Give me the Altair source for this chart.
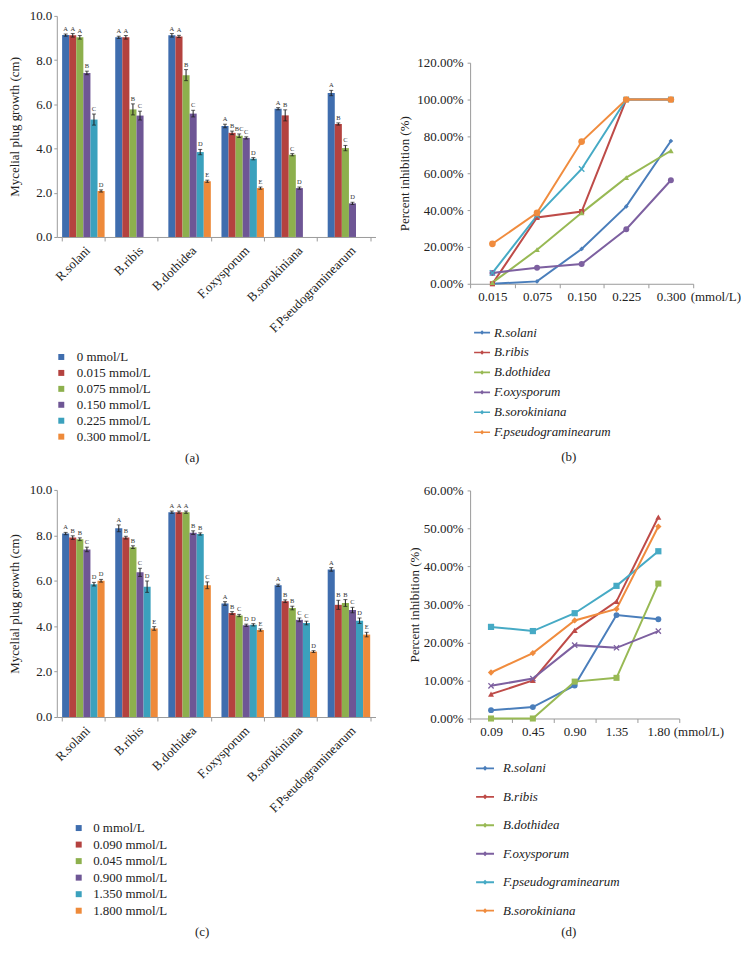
import altair as alt
import pandas as pd

FONT = "Liberation Serif"
TXT = "#222222"
AXC = "#9a9a9a"

# ---------------- Panel (a) ----------------
species_bar = ["R.solani", "B.ribis", "B.dothidea", "F.oxysporum", "B.sorokiniana", "F.Pseudograminearum"]
conc_a = ["0 mmol/L", "0.015 mmol/L", "0.075 mmol/L", "0.150 mmol/L", "0.225 mmol/L", "0.300 mmol/L"]
a_growth = [
    [9.13, 9.12, 9.03, 7.42, 5.31, 2.08],
    [9.03, 9.03, 5.77, 5.49, None, None],
    [9.12, 9.07, 7.32, 5.58, 3.84, 2.52],
    [5.02, 4.71, 4.58, 4.48, 3.54, 2.21],
    [5.80, 5.50, 3.72, 2.21, None, None],
    [6.51, 5.11, 4.02, 1.52, None, None],
]
a_err = [
    [0.05, 0.08, 0.08, 0.08, 0.25, 0.05],
    [0.05, 0.08, 0.25, 0.20, 0.0, 0.0],
    [0.08, 0.05, 0.25, 0.15, 0.12, 0.05],
    [0.08, 0.08, 0.08, 0.05, 0.05, 0.05],
    [0.05, 0.25, 0.05, 0.05, 0.0, 0.0],
    [0.12, 0.05, 0.12, 0.05, 0.0, 0.0],
]
a_letters = [
    ["A", "A", "A", "B", "C", "D"],
    ["A", "A", "B", "C", "", ""],
    ["A", "A", "B", "C", "D", "E"],
    ["A", "B", "BC", "C", "D", "E"],
    ["A", "B", "C", "D", "", ""],
    ["A", "B", "C", "D", "", ""],
]

# ---------------- Panel (c) ----------------
conc_c = ["0 mmol/L", "0.090 mmol/L", "0.045 mmol/L", "0.900 mmol/L", "1.350 mmol/L", "1.800 mmol/L"]
c_growth = [
    [8.08, 7.90, 7.83, 7.38, 5.85, 6.00],
    [8.31, 7.90, 7.48, 6.37, 5.74, 3.90],
    [9.02, 9.02, 9.02, 8.12, 8.06, 5.80],
    [5.00, 4.58, 4.47, 4.04, 4.06, 3.83],
    [5.80, 5.10, 4.80, 4.28, 4.14, 2.88],
    [6.50, 4.94, 5.02, 4.71, 4.24, 3.63],
]
c_err = [
    [0.05, 0.08, 0.06, 0.10, 0.08, 0.06],
    [0.15, 0.06, 0.06, 0.18, 0.25, 0.08],
    [0.05, 0.05, 0.05, 0.08, 0.05, 0.15],
    [0.08, 0.06, 0.05, 0.05, 0.05, 0.05],
    [0.05, 0.06, 0.08, 0.08, 0.08, 0.04],
    [0.08, 0.20, 0.15, 0.12, 0.12, 0.10],
]
c_letters = [
    ["A", "B", "B", "C", "D", "D"],
    ["A", "B", "B", "C", "D", "E"],
    ["A", "A", "A", "B", "B", "C"],
    ["A", "B", "C", "D", "D", "E"],
    ["A", "B", "B", "C", "C", "D"],
    ["A", "B", "B", "C", "D", "E"],
]

# ---------------- Panel (b) ----------------
conc_b = ["0.015", "0.075", "0.150", "0.225", "0.300"]
series_b = ["R.solani", "B.ribis", "B.dothidea", "F.oxysporum", "B.sorokiniana", "F.pseudograminearum"]
b_rsolani = [0.0, 1.3, 18.9, 42.0, 77.5]
b_bribis = [0.0, 36.0, 39.2, 100.0, 100.0]
b_bdothidea = [0.6, 18.5, 38.5, 57.6, 72.2]
b_foxysporum = [5.9, 8.7, 10.7, 29.6, 56.2]
b_bsorokiniana = [5.9, 37.0, 62.3, 100.0, 100.0]
b_fpseudo = [21.7, 38.5, 77.2, 100.0, 100.0]

# ---------------- Panel (d) ----------------
conc_d = ["0.09", "0.45", "0.90", "1.35", "1.80"]
series_d = ["R.solani", "B.ribis", "B.dothidea", "F.oxysporum", "F.pseudograminearum", "B.sorokiniana"]
d_rsolani = [2.2, 3.0, 8.7, 27.2, 26.1]
d_bribis = [6.4, 10.0, 23.2, 30.8, 53.0]
d_bdothidea = [0.0, 0.0, 9.7, 10.7, 35.5]
d_foxysporum = [8.6, 10.5, 19.3, 18.6, 23.0]
d_fpseudo = [24.1, 23.0, 27.7, 34.9, 44.0]
d_bsorokiniana = [12.1, 17.2, 25.8, 28.8, 50.5]

BAR_COLORS = ["#3F6DAE", "#B4423F", "#8DB04D", "#6E5695", "#3BA1BD", "#EE8A3A"]
LINE_COLORS = ["#4A7EBB", "#BE4B48", "#98B954", "#7D60A0", "#46AAC5", "#F08C3E"]
XSHAPE = "M-1,-0.7L-0.7,-1L0,-0.3L0.7,-1L1,-0.7L0.3,0L1,0.7L0.7,1L0,0.3L-0.7,1L-1,0.7L-0.3,0Z"
LEG_PATH = "M-1,-0.1L1,-0.1L1,0.1L-1,0.1Z M-0.28,0L0,-0.28L0.28,0L0,0.28Z"

IND = dict(color="independent", shape="independent", size="independent",
           x="independent", y="independent", xOffset="independent")


def bar_df(species, conc, growth, err, letters):
    rows = []
    for s, vals, es, ls in zip(species, growth, err, letters):
        for c, v, e, l in zip(conc, vals, es, ls):
            if v is None:
                continue
            rows.append(dict(species=s, conc=c, value=v, lo=v - e, hi=v + e, letter=l))
    return pd.DataFrame(rows)


def bar_panel(df, key, conc, w, h, leg_x, leg_y, row_pad, lab_off, caption, cap_off, cap_dx, title_pad):
    df = df.rename(columns={"conc": key})
    ytitle = "Mycelial plug growth (cm)"
    x = alt.X("species:N", sort=species_bar, title=None,
              scale=alt.Scale(paddingInner=0.2, paddingOuter=0.1),
              axis=alt.Axis(labelAngle=-45, labelFont=FONT, labelFontSize=13, labelColor=TXT,
                            tickBand="extent", domainColor=AXC, tickColor=AXC, tickSize=4,
                            labelPadding=3))
    xo = alt.XOffset(f"{key}:N", sort=conc, scale=alt.Scale(domain=conc, paddingInner=0, paddingOuter=0))
    yax = alt.Axis(values=list(range(11)), format=".1f", labelFont=FONT, labelFontSize=13,
                   labelColor=TXT, domainColor=AXC, tickColor=AXC, tickSize=3, labelPadding=2,
                   titleFont=FONT, titleFontSize=13, titleFontWeight="normal", titleColor=TXT,
                   titlePadding=title_pad)
    yscale = alt.Scale(domain=[0, 10])
    base = alt.Chart(df)
    bars = base.mark_bar().encode(
        x=x, xOffset=xo,
        y=alt.Y("value:Q", title=ytitle, scale=yscale, axis=yax),
        color=alt.Color(f"{key}:N", sort=conc, scale=alt.Scale(domain=conc, range=BAR_COLORS),
                        legend=alt.Legend(title=None, orient="none", legendX=leg_x, legendY=leg_y,
                                          direction="vertical", symbolType="square", symbolSize=36,
                                          symbolStrokeWidth=0, labelFont=FONT, labelFontSize=13,
                                          labelColor=TXT, rowPadding=row_pad, labelOffset=lab_off,
                                          padding=0)),
    )
    rule = base.mark_rule(color="#1e1e1e", strokeWidth=1).encode(
        x=x, xOffset=xo, y=alt.Y("lo:Q", title=ytitle, scale=yscale), y2="hi:Q")
    cap_hi = base.mark_tick(color="#1e1e1e", size=4, thickness=1).encode(
        x=x, xOffset=xo, y=alt.Y("hi:Q", title=ytitle, scale=yscale))
    cap_lo = base.mark_tick(color="#1e1e1e", size=4, thickness=1).encode(
        x=x, xOffset=xo, y=alt.Y("lo:Q", title=ytitle, scale=yscale))
    txt = base.mark_text(font=FONT, fontSize=6.5, dy=-5, color="#333333").encode(
        x=x, xOffset=xo, y=alt.Y("hi:Q", title=ytitle, scale=yscale), text="letter:N")
    return alt.layer(bars, rule, cap_hi, cap_lo, txt).properties(
        width=w, height=h,
        title=alt.TitleParams(caption, orient="bottom", frame="group", offset=cap_off, dx=cap_dx,
                              font=FONT, fontSize=13, fontWeight="normal", color=TXT,
                              baseline="middle"))


def line_df(series, conc, lists):
    rows = []
    for s, vals in zip(series, lists):
        for c, v in zip(conc, vals):
            rows.append(dict(series=s, conc=c, pct=v / 100.0))
    return pd.DataFrame(rows)


def line_panel(df, key, series, conc, shapes, sizes, w, h, ymax, yvals, title_pad,
               leg_x, leg_y, row_pad, leg_size, lab_off, caption, cap_off, cap_dx, unit_x):
    df = df.rename(columns={"series": key})
    x = alt.X("conc:O", sort=conc,
              scale=alt.Scale(type="band", paddingInner=0, paddingOuter=0),
              axis=alt.Axis(title="(mmol/L)", labelAngle=0, tickBand="extent", labelFont=FONT,
                            labelFontSize=13, labelColor=TXT, domainColor=AXC, tickColor=AXC,
                            tickSize=4, labelPadding=3, titleFont=FONT, titleFontSize=13,
                            titleFontWeight="normal", titleColor=TXT, titleX=unit_x, titleY=13,
                            titleAlign="left", titleBaseline="middle", titleAngle=0))
    y = alt.Y("pct:Q", title="Percent inhibition (%)", scale=alt.Scale(domain=[0, ymax]),
              axis=alt.Axis(values=yvals, format=".2%", labelFont=FONT, labelFontSize=13,
                            labelColor=TXT, domainColor=AXC, tickColor=AXC, tickSize=3,
                            labelPadding=4, titleFont=FONT, titleFontSize=13,
                            titleFontWeight="normal", titleColor=TXT, titlePadding=title_pad))
    cscale = alt.Scale(domain=series, range=LINE_COLORS)
    line = alt.Chart(df).mark_line(strokeWidth=2).encode(
        x=x, y=y, color=alt.Color(f"{key}:N", sort=series, scale=cscale, legend=None))
    pts = alt.Chart(df).mark_point(filled=True, opacity=1).encode(
        x=x, y=y,
        color=alt.Color(f"{key}:N", sort=series, scale=cscale,
                        legend=alt.Legend(title=None, orient="none", legendX=leg_x, legendY=leg_y,
                                          direction="vertical", symbolType=LEG_PATH,
                                          symbolSize=leg_size, labelFont=FONT, labelFontSize=13,
                                          labelFontStyle="italic", labelColor=TXT,
                                          rowPadding=row_pad, labelOffset=lab_off, padding=0)),
        shape=alt.Shape(f"{key}:N", sort=series, scale=alt.Scale(domain=series, range=shapes),
                        legend=None),
        size=alt.Size(f"{key}:N", sort=series, scale=alt.Scale(domain=series, range=sizes),
                      legend=None),
    )
    return alt.layer(line, pts).resolve_legend(color="independent").properties(
        width=w, height=h,
        title=alt.TitleParams(caption, orient="bottom", frame="group", offset=cap_off, dx=cap_dx,
                              font=FONT, fontSize=13, fontWeight="normal", color=TXT,
                              baseline="middle"))


df_a = bar_df(species_bar, conc_a, a_growth, a_err, a_letters)
df_c = bar_df(species_bar, conc_c, c_growth, c_err, c_letters)
df_b = line_df(series_b, conc_b, [b_rsolani, b_bribis, b_bdothidea, b_foxysporum, b_bsorokiniana, b_fpseudo])
df_d = line_df(series_d, conc_d, [d_rsolani, d_bribis, d_bdothidea, d_foxysporum, d_fpseudo, d_bsorokiniana])

pa = bar_panel(df_a, "conc_a", conc_a, 320, 222, -2, 336, 2, 9, "(a)", 14, -24, 8)
pc = bar_panel(df_c, "conc_c", conc_c, 320, 228, 15.5, 333, 2.6, 8, "(c)", 14, -14, 8)

pb = line_panel(df_b, "strain_b", series_b, conc_b,
                ["diamond", "square", "triangle-up", "circle", XSHAPE, "circle"],
                [22, 45, 30, 25, 45, 55],
                224, 222, 1.2, [0, 0.2, 0.4, 0.6, 0.8, 1.0, 1.2], 5.5,
                3, 262, 4, 256, 3, "(b)", 18, -13, 221)
pd_ = line_panel(df_d, "strain_d", series_d, conc_d,
                 ["circle", "triangle-up", "square", XSHAPE, "square", "diamond"],
                 [35, 40, 35, 35, 35, 25],
                 210, 229, 0.6, [0, 0.1, 0.2, 0.3, 0.4, 0.5, 0.6], 2,
                 5, 269, 11.6, 324, 8, "(d)", 14, -6, 204)

# empty, invisible block that only reserves the gap above panel (b)
spacer = alt.Chart(pd.DataFrame({"gap": []})).mark_point(opacity=0).properties(
    width=224, height=41, view=alt.ViewBackground(fill="white", stroke=None))

left = alt.vconcat(pa, pc, spacing=19).resolve_scale(**IND)
right_top = alt.vconcat(spacer, pb, spacing=0).resolve_scale(**IND)
right = alt.vconcat(right_top, pd_, spacing=20.5).resolve_scale(**IND)

chart = alt.hconcat(left, right, spacing=22).resolve_scale(**IND).properties(
    padding=0, background="white"
).configure_view(stroke=None).configure_axis(grid=False)

chart.save("out.html", embed_options={"renderer": "svg", "actions": False})
